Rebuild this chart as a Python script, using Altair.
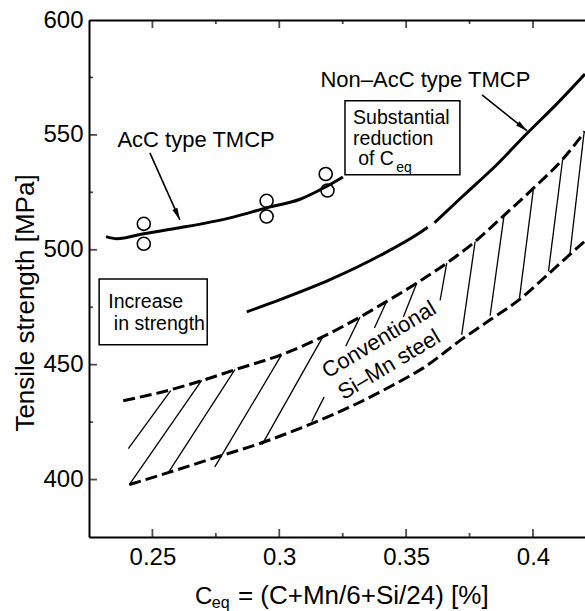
import altair as alt
import pandas as pd

FONT = "Liberation Sans"

# ---------------- axes ----------------
X_DOMAIN = [0.225, 0.4205]
Y_DOMAIN = [375, 600]
x_major = [0.25, 0.30, 0.35, 0.40]
x_minor = [0.275, 0.325, 0.375]
y_major = [400, 450, 500, 550, 600]
y_minor = [425, 475, 525, 575]

# ---------------- AcC type TMCP curve ----------------
acc_x = [0.2317, 0.2360, 0.2466, 0.2608, 0.2806, 0.2952, 0.3082, 0.3180, 0.3251]
acc_y = [505.7, 504.8, 507.0, 509.6, 513.9, 518.3, 522.0, 527.2, 531.7]

# measured points (AcC)
pts_x = [0.2466, 0.2466, 0.2950, 0.2950, 0.3183, 0.3190]
pts_y = [511.3, 502.6, 521.3, 514.5, 533.0, 525.8]

# ---------------- Non-AcC type TMCP curve ----------------
non_x = [0.2872, 0.3003, 0.3200, 0.3397, 0.3555, 0.3585, 0.3612, 0.3725, 0.3857, 0.3975, 0.4094, 0.4205]
non_y = [473.0, 478.3, 487.0, 497.5, 507.5, 509.8, 511.8, 523.5, 537.0, 550.5, 563.5, 576.5]
non_seg = [1, 1, 1, 1, 1, 1, 2, 2, 2, 2, 2, 2]

# ---------------- Conventional Si-Mn steel band ----------------
up_x = [0.2385, 0.2569, 0.2694, 0.2825, 0.3007, 0.3172, 0.3318, 0.3423, 0.3542, 0.3660, 0.3772, 0.3886, 0.4002, 0.4117, 0.4205]
up_y = [434.3, 439.0, 443.0, 447.8, 454.3, 462.2, 470.7, 477.5, 485.5, 494.2, 503.6, 515.0, 526.8, 539.4, 551.5]
lo_x = [0.2409, 0.2562, 0.2746, 0.2931, 0.3082, 0.3305, 0.3436, 0.3568, 0.3719, 0.3831, 0.3946, 0.4061, 0.4146, 0.4205]
lo_y = [397.8, 403.0, 409.5, 416.0, 422.3, 433.0, 440.4, 448.6, 461.0, 469.5, 478.3, 489.5, 498.0, 503.8]

# hatching segments
h_x1 = [0.2405, 0.2409, 0.2562, 0.2746, 0.2932, 0.3128, 0.3262, 0.3375, 0.3489, 0.3634, 0.3719, 0.3831, 0.3946, 0.4061, 0.4146]
h_y1 = [413.5, 397.8, 402.9, 405.5, 415.2, 425.3, 458.0, 466.0, 470.7, 478.0, 463.0, 471.3, 478.3, 490.6, 498.6]
h_x2 = [0.2572, 0.2694, 0.2825, 0.3007, 0.3172, 0.3177, 0.3318, 0.3423, 0.3542, 0.3660, 0.3772, 0.3886, 0.4002, 0.4117, 0.4201]
h_y2 = [438.7, 443.2, 447.8, 453.9, 462.2, 436.0, 470.7, 477.5, 485.5, 494.2, 503.6, 515.0, 526.8, 539.4, 550.7]

# ---------------- annotations ----------------
lab_text = ["AcC type TMCP", "Non\u2013AcC type TMCP"]
lab_x = [0.2672, 0.3576]
lab_y = [544.8, 570.7]

arr_x1 = [0.2490, 0.3799]
arr_y1 = [542.2, 567.4]
arr_x2 = [0.2608, 0.3977]
arr_y2 = [513.0, 551.7]
arr_ang = [155.9, 128.7]

box_x1 = [0.2290, 0.3259]
box_x2 = [0.2716, 0.3712]
box_y1 = [487.3, 564.9]
box_y2 = [458.7, 532.6]

bt_text = ["Increase", "in strength", "Substantial", "reduction", "of C"]
bt_x = [0.2326, 0.2348, 0.3291, 0.3291, 0.3311]
bt_y = [474.8, 465.2, 554.8, 545.7, 536.8]
bsub_text = ["eq"]
bsub_x = [0.3461]
bsub_y = [534.0]

rot_text = ["Conventional", "Si\u2013Mn steel"]
rot_x = [0.3393, 0.3433]
rot_y = [460.9, 450.0]

xt_c_text = ["C"]
xt_c_x = [0.2668]
xt_main_text = ["= (C+Mn/6+Si/24) [%]"]
xt_main_x = [0.2837]
xt_base_y = [345.65]
xt_sub_text = ["eq"]
xt_sub_x = [0.2734]
xt_sub_y = [344.1]

ytitle = "Tensile strength [MPa]"

# ---------------- build ----------------
W, H = 496, 517
xs = alt.Scale(domain=X_DOMAIN, nice=False, zero=False)
ys = alt.Scale(domain=Y_DOMAIN, nice=False, zero=False)


def X(f, **kw):
    return alt.X(f, type="quantitative", scale=xs, title="", **kw)


def Y(f, **kw):
    return alt.Y(f, type="quantitative", scale=ys, title="", **kw)


layers = []


# inward ticks: centred tick marks on the frame, clipped to the plot area
def tick_layer(values, side, length):
    n = len(values)
    if side == "bottom":
        d = pd.DataFrame({"x": values, "y": [Y_DOMAIN[0]] * n})
        orient = "vertical"
    elif side == "top":
        d = pd.DataFrame({"x": values, "y": [Y_DOMAIN[1]] * n})
        orient = "vertical"
    else:
        d = pd.DataFrame({"y": values, "x": [X_DOMAIN[0]] * n})
        orient = "horizontal"
    return alt.Chart(d).mark_tick(color="black", orient=orient, size=2 * length, thickness=1.8,
                                  clip=True).encode(
        x=X("x", axis=None), y=Y("y", axis=None))


layers.append(tick_layer(x_major, "bottom", 8))
layers.append(tick_layer(x_minor, "bottom", 4))
layers.append(tick_layer(x_major, "top", 8))
layers.append(tick_layer(x_minor, "top", 4))
layers.append(tick_layer(y_major, "left", 8))
layers.append(tick_layer(y_minor, "left", 4))

# hatch
hatch = pd.DataFrame({"x": h_x1, "y": h_y1, "x2": h_x2, "y2": h_y2})
layers.append(alt.Chart(hatch).mark_rule(color="black", strokeWidth=1.3).encode(
    x=X("x", axis=None), y=Y("y", axis=None), x2="x2", y2="y2"))

# dashed band boundaries
for bx, by in [(up_x, up_y), (lo_x, lo_y)]:
    d = pd.DataFrame({"x": bx, "y": by})
    layers.append(alt.Chart(d).mark_line(color="black", strokeWidth=3, strokeDash=[12, 5],
                                         interpolate="monotone").encode(
        x=X("x", axis=None), y=Y("y", axis=None)))

# solid curves
acc = pd.DataFrame({"x": acc_x, "y": acc_y})
layers.append(alt.Chart(acc).mark_line(color="black", strokeWidth=3, interpolate="monotone").encode(
    x=X("x", axis=None), y=Y("y", axis=None)))
non = pd.DataFrame({"x": non_x, "y": non_y, "seg": non_seg})
layers.append(alt.Chart(non).mark_line(color="black", strokeWidth=3, interpolate="monotone").encode(
    x=X("x", axis=None), y=Y("y", axis=None), detail="seg:N"))

# points
pts = pd.DataFrame({"x": pts_x, "y": pts_y})
layers.append(alt.Chart(pts).mark_point(shape="circle", filled=False, color="black", size=170,
                                        strokeWidth=1.6, opacity=1).encode(
    x=X("x", axis=None), y=Y("y", axis=None)))

# boxes
boxes = pd.DataFrame({"x": box_x1, "x2": box_x2, "y": box_y1, "y2": box_y2})
layers.append(alt.Chart(boxes).mark_rect(fill="white", stroke="black", strokeWidth=1.5).encode(
    x=X("x", axis=None), x2="x2", y=Y("y", axis=None), y2="y2"))

# arrows
arr = pd.DataFrame({"x": arr_x1, "y": arr_y1, "x2": arr_x2, "y2": arr_y2, "ang": arr_ang})
layers.append(alt.Chart(arr).mark_rule(color="black", strokeWidth=1.6).encode(
    x=X("x", axis=None), y=Y("y", axis=None), x2="x2", y2="y2"))
layers.append(alt.Chart(arr).mark_point(shape="M0,0L0.45,2L-0.45,2Z", filled=True, color="black",
                                        size=144, opacity=1).encode(
    x=X("x2", axis=None), y=Y("y2", axis=None), angle=alt.Angle("ang:Q", scale=None)))


# texts
def text_layer(texts, xv, yv, **mk):
    d = pd.DataFrame({"x": xv, "y": yv, "t": texts})
    return alt.Chart(d).mark_text(font=FONT, color="black", **mk).encode(
        x=X("x", axis=None), y=Y("y", axis=None), text="t:N")


layers.append(text_layer(lab_text, lab_x, lab_y, fontSize=22, align="center", baseline="alphabetic"))
layers.append(text_layer(bt_text, bt_x, bt_y, fontSize=19.5, align="left", baseline="alphabetic"))
layers.append(text_layer(bsub_text, bsub_x, bsub_y, fontSize=14, align="left", baseline="alphabetic"))
layers.append(text_layer(rot_text, rot_x, rot_y, fontSize=22, align="center", baseline="middle",
                         angle=329))
layers.append(text_layer(xt_c_text, xt_c_x, xt_base_y, fontSize=24, align="left",
                         baseline="alphabetic"))
layers.append(text_layer(xt_main_text, xt_main_x, xt_base_y, fontSize=26, align="left",
                         baseline="alphabetic"))
layers.append(text_layer(xt_sub_text, xt_sub_x, xt_sub_y, fontSize=16, align="left",
                         baseline="alphabetic"))

# axes (labels + frame lines)
carrier = pd.DataFrame({"x": [0.3], "y": [500.0]})
common = dict(grid=False, domainColor="black", tickColor="black", labelColor="black")

xa_lab = alt.Axis(orient="bottom", values=x_major, format=".2~f", ticks=False, tickSize=0,
                  domain=True, domainWidth=2, labelFont=FONT, labelFontSize=24, labelPadding=8,
                  labelFlush=False, labelOverlap=False, **common)
ya_lab = alt.Axis(orient="left", values=y_major, format="d", ticks=False, tickSize=0,
                  domain=True, domainWidth=2, labelFont=FONT, labelFontSize=24, labelPadding=6,
                  labelFlush=False, labelOverlap=False, title=ytitle, titleFont=FONT,
                  titleFontSize=26, titleFontWeight="normal", titleColor="black",
                  titleAngle=270, titleX=-56, titleY=282.5, titleAlign="center",
                  titleBaseline="alphabetic", **common)
layers.append(alt.Chart(carrier).mark_point(opacity=0).encode(
    x=X("x", axis=xa_lab), y=alt.Y("y", type="quantitative", scale=ys, axis=ya_lab)))

xa_top = alt.Axis(orient="top", values=x_major, labels=False, ticks=False, tickSize=0,
                  domain=True, domainWidth=2, **common)
layers.append(alt.Chart(carrier).mark_point(opacity=0).encode(
    x=X("x", axis=xa_top), y=Y("y", axis=None)))

chart = alt.layer(*layers).resolve_axis(x="independent", y="independent").properties(
    width=W, height=H,
    padding={"left": 89, "top": 20, "right": 0, "bottom": 74},
    autosize=alt.AutoSizeParams(type="none"),
    background="white",
).configure_view(stroke=None)

chart.save("out.html", embed_options={"renderer": "svg", "actions": False})
